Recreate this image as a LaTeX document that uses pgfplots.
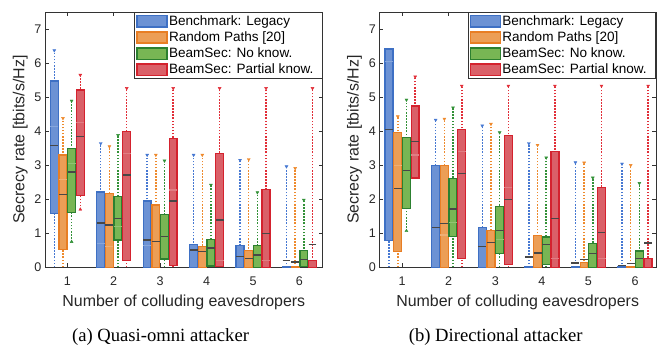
\documentclass[border=0pt]{standalone}
\usepackage{fontspec}
\setmainfont{Liberation Serif}
\setsansfont{Liberation Sans}
\usepackage{pgfplots}
\usepackage{pgfplotstable}
\pgfplotsset{compat=1.18}
\usepgfplotslibrary{statistics}

\definecolor{cBe}{RGB}{62,112,196}
\definecolor{cBf}{RGB}{108,146,212}
\definecolor{cOe}{RGB}{232,126,36}
\definecolor{cOf}{RGB}{236,158,86}
\definecolor{cGe}{RGB}{44,128,48}
\definecolor{cGf}{RGB}{120,182,84}
\definecolor{cRe}{RGB}{212,34,46}
\definecolor{cRf}{RGB}{218,96,104}
\definecolor{wB}{RGB}{70,120,210}
\definecolor{wO}{RGB}{238,138,45}
\definecolor{wG}{RGB}{50,145,55}
\definecolor{wR}{RGB}{225,45,55}

% left panel: quasi-omni attacker
\pgfplotstableread{
lw lq med uq uw avg tt bt
0 1.59 3.57 5.47 6.37 4.13 6.37 nan
0 0 1.30 2.21 3.64 0.70 3.64 nan
0 0 0.80 1.95 3.30 0.65 3.30 nan
0 0 0.51 0.68 3.30 nan 3.30 nan
0 0 0.31 0.64 3.15 nan 3.15 nan
0 0 0.19 0.03 2.96 nan 2.96 nan
}\ABlue
\pgfplotstableread{
lw lq med uq uw avg tt bt
0 0.53 2.14 3.30 4.38 2.57 4.38 nan
0 0 1.24 2.17 3.55 0.60 3.55 nan
0 0 0.75 1.83 3.30 nan 3.30 nan
0 0 0.46 0.61 3.30 nan 3.30 nan
0 0 0.26 0.49 3.17 nan 3.17 nan
0 0 0.16 0.03 2.91 nan 2.91 nan
}\AOrange
\pgfplotstableread{
lw lq med uq uw avg tt bt
0.75 1.61 2.80 3.50 4.89 3.04 4.89 0.75
0 0.80 1.43 2.08 3.88 1.20 3.88 nan
0 0.24 0.90 1.56 3.13 nan 3.13 nan
0 0.04 0.57 0.81 2.42 nan 2.42 nan
0 0 0.36 0.64 2.20 nan 2.20 nan
0 0.02 0.23 0.49 1.98 nan 1.98 nan
}\AGreen
\pgfplotstableread{
lw lq med uq uw avg tt bt
1.70 2.10 3.85 5.21 5.65 4.25 5.65 1.70
0 0.20 2.71 3.99 5.26 3.35 5.26 nan
0 0.05 1.95 3.79 5.26 2.27 5.26 nan
0 0.02 1.39 3.35 5.26 0.20 5.26 nan
0 0 1.00 2.29 5.26 0.20 5.26 nan
0 0 0.68 0.20 5.26 nan 5.26 nan
}\ARed

% right panel: directional attacker
\pgfplotstableread{
lw lq med uq uw avg tt bt
0 0.78 4.04 6.41 6.41 6.04 nan nan
0 0 1.17 2.99 4.33 nan 4.33 nan
0 0 0.61 1.17 4.16 nan 4.16 nan
0 0 0.30 0.02 3.64 nan 3.64 nan
0 0 0.13 0.02 3.08 nan 3.08 nan
0 0 0.05 0.02 3.04 nan 3.04 nan
}\BBlue
\pgfplotstableread{
lw lq med uq uw avg tt bt
0 0.46 2.32 3.97 4.43 3.00 4.43 nan
0 0 1.28 2.99 4.36 0.95 4.36 nan
0 0 0.73 1.09 4.21 nan 4.21 nan
0 0 0.42 0.93 3.59 nan 3.59 nan
0 0 0.22 0.15 3.07 nan 3.07 nan
0 0 0.12 0.02 3.00 nan 3.00 nan
}\BOrange
\pgfplotstableread{
lw lq med uq uw avg tt bt
1.07 1.73 2.84 3.82 4.92 nan 4.92 1.07
0 0.90 1.71 2.60 4.69 1.31 4.69 nan
0 0.41 1.08 1.78 3.96 0.82 3.96 nan
0 0.09 0.66 0.89 3.22 nan 3.22 nan
0 0 0.41 0.69 2.63 nan 2.63 nan
0 0 0.25 0.48 2.47 nan 2.47 nan
}\BGreen
\pgfplotstableread{
lw lq med uq uw avg tt bt
2.62 2.62 3.69 4.74 5.60 3.30 5.60 nan
0 0.26 2.76 4.04 5.33 3.40 5.33 nan
0 0.09 2.00 3.87 5.33 2.34 5.33 nan
0 0 1.44 3.40 5.33 0.26 5.33 nan
0 0 1.03 2.35 5.33 0.26 5.33 nan
0 0 0.71 0.26 5.33 nan 5.33 nan
}\BRed

\pgfplotsset{
  myaxis/.style={
    scale only axis, height=255.3bp,
    ymin=0, ymax=7.5, ytick={0,...,7}, xtick={1,...,6},
    tick align=inside, major tick length=4bp,
    axis line style={black!80, line width=0.6pt},
    tick style={black!80, line width=0.6pt},
    ticklabel style={font=\fontsize{12.6}{14}\sffamily, text=black!85},
    xticklabel style={yshift=-6bp},
    /pgf/number format/assume math mode=true,
    xlabel={Number of colluding eavesdropers},
    ylabel={Secrecy rate [tbits/s/Hz]},
    label style={font=\fontsize{16}{18}\sffamily, text=black!85},
    xlabel style={yshift=-2bp},
    boxplot/draw direction=y,
    boxplot/every median/.style={draw=black!72, line width=1.3pt},
    boxplot/box extend=0.17, boxplot/whisker extend=0,
    legend style={at={(1,1)}, anchor=north east, draw=black!80, line width=0.6pt,
      font=\fontsize{13.6}{15}\sffamily, inner xsep=1.5bp, inner ysep=1bp,
      row sep=0pt, nodes={inner xsep=1.5bp, inner ysep=2.4bp}, cells={anchor=west}},
    legend image code/.code={\draw[##1, line width=1.3pt] (0bp,-5.6bp) rectangle (30bp,5.6bp);},
  },
}

% one box: #1 table, #2 row, #3 offset, #4 edge colour, #5 fill colour, #6 whisker colour
\newcommand{\onebox}[6]{%
  \pgfplotstablegetelem{#2}{lw}\of{#1}\let\vlw\pgfplotsretval
  \pgfplotstablegetelem{#2}{lq}\of{#1}\let\vlq\pgfplotsretval
  \pgfplotstablegetelem{#2}{med}\of{#1}\let\vmed\pgfplotsretval
  \pgfplotstablegetelem{#2}{uq}\of{#1}\let\vuq\pgfplotsretval
  \pgfplotstablegetelem{#2}{uw}\of{#1}\let\vuw\pgfplotsretval
  \pgfmathsetmacro\vpos{#2+1+#3}%
  \edef\temp{\noexpand\addplot[color=#6, line width=1.5pt, forget plot, mark=none,
      dash pattern=on 1.6pt off 1.5pt]
      coordinates {(\vpos,\vlw) (\vpos,\vuw)};
    \noexpand\addplot[draw=#4, fill=#5, line width=1.3pt, forget plot,
      boxplot prepared={draw position=\vpos, lower whisker=\vlq,
        lower quartile=\vlq, median=\vmed, upper quartile=\vuq, upper whisker=\vuq}]
      coordinates {};}%
  \temp
}

\newcommand{\series}[5]{%
  \pgfplotsinvokeforeach{0,...,5}{\onebox{#1}{##1}{#2}{#3}{#4}{#5}}
  \addplot[forget plot, only marks, mark=-, mark size=4bp,
    mark options={draw=#4!82!white, line width=1.1pt}]
    table[x expr=\coordindex+1+#2, y=avg]{#1};
  \addplot[forget plot, only marks, mark=triangle*, mark size=1.7bp,
    mark options={rotate=180, draw=#5, fill=#5}]
    table[x expr=\coordindex+1+#2, y=tt]{#1};
  \addplot[forget plot, only marks, mark=triangle*, mark size=1.7bp,
    mark options={draw=#5, fill=#5}]
    table[x expr=\coordindex+1+#2, y=bt]{#1};
}

\newcommand{\legendentries}{%
  \addlegendimage{draw=cBe, fill=cBf}
  \addlegendentry{Benchmark: Legacy}
  \addlegendimage{draw=cOe, fill=cOf}
  \addlegendentry{Random Paths [20]}
  \addlegendimage{draw=cGe, fill=cGf}
  \addlegendentry{BeamSec: No know.}
  \addlegendimage{draw=cRe, fill=cRf}
  \addlegendentry{BeamSec: Partial know.\hspace*{6bp}}
}

\begin{document}
\begin{tikzpicture}
\useasboundingbox (0,0) rectangle (662bp,346bp);
\begin{axis}[myaxis, at={(45bp,78.7bp)}, anchor=south west, width=277.7bp,
  xmin=0.52, xmax=6.5]
  \legendentries
  \series{\ABlue}{-0.28}{cBe}{cBf}{wB}
  \series{\AOrange}{-0.093}{cOe}{cOf}{wO}
  \series{\AGreen}{0.093}{cGe}{cGf}{wG}
  \series{\ARed}{0.28}{cRe}{cRf}{wR}
\end{axis}
\begin{axis}[myaxis, at={(379.3bp,78.7bp)}, anchor=south west, width=276.7bp,
  xmin=0.51, xmax=6.45]
  \legendentries
  \series{\BBlue}{-0.28}{cBe}{cBf}{wB}
  \series{\BOrange}{-0.093}{cOe}{cOf}{wO}
  \series{\BGreen}{0.093}{cGe}{cGf}{wG}
  \series{\BRed}{0.28}{cRe}{cRf}{wR}
\end{axis}
\node[anchor=base, font=\fontsize{18.7}{20}\selectfont] at (160.5bp,5bp) {(a) Quasi-omni attacker};
\node[anchor=base, font=\fontsize{18.7}{20}\selectfont] at (495.7bp,5bp) {(b) Directional attacker};
\end{tikzpicture}
\end{document}
